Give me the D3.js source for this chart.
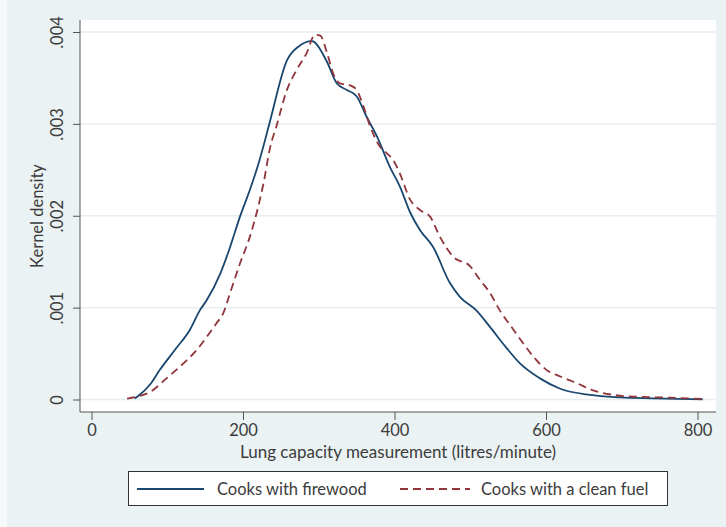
<!DOCTYPE html>
<meta charset="utf-8">
<style>
  body { margin: 0; background: #eaf2f3; }
  text { font-family: Lato, "Open Sans", sans-serif; fill: #3c3c3c; }
  .grid line { stroke: #e6eef0; stroke-width: 1.5; }
</style>
<body>
<script src="https://d3js.org/d3.v7.min.js"></script>
<script>

  // lung capacity (litres/minute) and kernel density
  var firewoodX = [57, 62, 77, 90, 112, 130, 143, 152, 170, 183, 196, 209, 222, 229, 236, 258, 273, 291, 310, 324, 337, 350, 363, 377, 394, 407, 421, 434, 451, 473, 486, 508, 526, 548, 566, 592, 618, 658, 698, 741, 807];
  var firewoodY = [0.00001, 0.00004, 0.00016, 0.00032, 0.00056, 0.00076, 0.00097, 0.00108, 0.00137, 0.00166, 0.00199, 0.00228, 0.00261, 0.00282, 0.00304, 0.00369, 0.00384, 0.0039, 0.00369, 0.00344, 0.00337, 0.0033, 0.00308, 0.00286, 0.00253, 0.00232, 0.00203, 0.00184, 0.00166, 0.00127, 0.00112, 0.00097, 0.00079, 0.00056, 0.00039, 0.00023, 0.00012, 0.00005, 0.000024, 0.000013, 0.000002];

  var cleanX = [47, 60, 77, 99, 121, 139, 152, 165, 174, 183, 196, 209, 218, 227, 236, 244, 258, 271, 284, 295, 302, 311, 319, 328, 341, 350, 359, 368, 381, 390, 398, 407, 421, 434, 447, 460, 478, 500, 513, 526, 539, 557, 570, 583, 601, 619, 640, 662, 689, 720, 764, 808];
  var cleanY = [0.00001, 0.00003, 0.00008, 0.00023, 0.00039, 0.00054, 0.00068, 0.00083, 0.00094, 0.00116, 0.00148, 0.00177, 0.00203, 0.00235, 0.00275, 0.00297, 0.00337, 0.00359, 0.00377, 0.00397, 0.00396, 0.00377, 0.00355, 0.00344, 0.00342, 0.00337, 0.00319, 0.00297, 0.00275, 0.00268, 0.00261, 0.00246, 0.00217, 0.00206, 0.00199, 0.00177, 0.00155, 0.00145, 0.0013, 0.00116, 0.00097, 0.00076, 0.00061, 0.00047, 0.00032, 0.00025, 0.00018, 0.0001, 0.00005, 0.00003, 0.00002, 0.000005];

  var xTicks = [0, 200, 400, 600, 800];
  var yTicks = [0, 0.001, 0.002, 0.003, 0.004];
  var seriesNames = ["Cooks with firewood", "Cooks with a clean fuel"];
  var seriesColors = ["#1a476f", "#90353b"];

  var width = 726, height = 527;
  var plot = { left: 80, right: 716, top: 20, bottom: 412 };
  var fontSize = 16.5;

  var svg = d3.select("body").append("svg")
    .attr("width", width)
    .attr("height", height);

  svg.append("rect")
    .attr("width", width).attr("height", height)
    .attr("fill", "#eaf2f3");
  svg.append("rect")
    .attr("width", 7).attr("height", height)
    .attr("fill", "#f6f9fa");

  svg.append("rect")
    .attr("x", plot.left).attr("y", plot.top)
    .attr("width", plot.right - plot.left)
    .attr("height", plot.bottom - plot.top)
    .attr("fill", "#fff");

  var xScale = d3.scaleLinear().domain([0, 800]).range([91.5, 697.5]);
  var yScale = d3.scaleLinear().domain([0, 0.004]).range([399.5, 32]);

  // gridlines
  svg.append("g")
    .attr("class", "grid")
    .selectAll("line")
    .data(yTicks)
    .join("line")
    .attr("x1", plot.left).attr("x2", plot.right)
    .attr("y1", function (d) { return yScale(d); })
    .attr("y2", function (d) { return yScale(d); });

  // x axis
  var xAxis = svg.append("g")
    .attr("transform", "translate(0," + plot.bottom + ")")
    .call(d3.axisBottom(xScale).tickValues(xTicks).tickSize(8).tickPadding(4)
      .tickFormat(d3.format("d")));
  xAxis.select(".domain").attr("d", "M" + plot.left + ",0H" + plot.right);
  xAxis.selectAll("line, .domain").attr("stroke", "#555");
  xAxis.selectAll("text").attr("font-size", fontSize).attr("fill", "#3c3c3c");

  // y axis
  var yAxis = svg.append("g")
    .attr("transform", "translate(" + plot.left + ",0)")
    .call(d3.axisLeft(yScale).tickValues(yTicks).tickSize(7)
      .tickFormat(function (d) { return d === 0 ? "0" : d3.format(".3f")(d).replace(/^0/, ""); }));
  yAxis.select(".domain").attr("d", "M0," + plot.top + "V" + plot.bottom);
  yAxis.selectAll("line, .domain").attr("stroke", "#555");
  yAxis.selectAll("text")
    .attr("font-size", fontSize).attr("fill", "#3c3c3c")
    .attr("text-anchor", "middle")
    .attr("x", 0).attr("dy", null).attr("y", 0)
    .attr("transform", "translate(-17,0) rotate(-90)");

  svg.append("text")
    .attr("x", 398).attr("y", 458)
    .attr("text-anchor", "middle")
    .attr("font-size", 17)
    .text("Lung capacity measurement (litres/minute)");

  svg.append("text")
    .attr("transform", "translate(43,216) rotate(-90)")
    .attr("text-anchor", "middle")
    .attr("font-size", fontSize)
    .text("Kernel density");

  var line = d3.line()
    .x(function (d) { return xScale(d[0]); })
    .y(function (d) { return yScale(d[1]); })
    .curve(d3.curveMonotoneX);

  svg.append("path")
    .datum(d3.zip(firewoodX, firewoodY))
    .attr("fill", "none")
    .attr("stroke", seriesColors[0])
    .attr("stroke-width", 1.8)
    .attr("d", line);

  svg.append("path")
    .datum(d3.zip(cleanX, cleanY))
    .attr("fill", "none")
    .attr("stroke", seriesColors[1])
    .attr("stroke-width", 1.8)
    .attr("stroke-dasharray", "8,5")
    .attr("d", line);

  // legend
  var legend = svg.append("g");
  legend.append("rect")
    .attr("x", 128.5).attr("y", 471.5)
    .attr("width", 539).attr("height", 34)
    .attr("fill", "#fff").attr("stroke", "#333");

  var legendItems = [{ x1: 137, x2: 204, tx: 217 }, { x1: 400, x2: 470, tx: 481 }];
  legendItems.forEach(function (it, i) {
    legend.append("line")
      .attr("x1", it.x1).attr("x2", it.x2)
      .attr("y1", 489).attr("y2", 489)
      .attr("stroke", seriesColors[i])
      .attr("stroke-width", 1.8)
      .attr("stroke-dasharray", i === 1 ? "8,5" : null);
    legend.append("text")
      .attr("x", it.tx).attr("y", 495)
      .attr("font-size", fontSize)
      .text(seriesNames[i]);
  });

</script>
</body>
